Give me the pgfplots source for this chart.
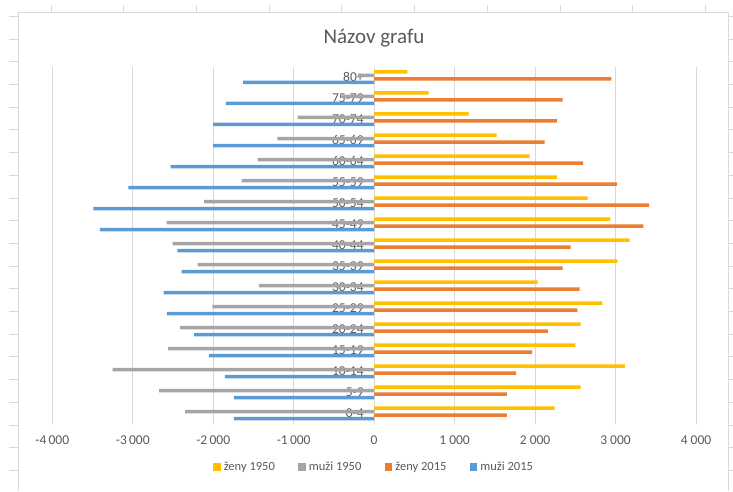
\documentclass[border=0pt]{standalone}
\usepackage{fontspec}
\setmainfont{Carlito}
\usepackage{pgfplots}
\usepackage{pgfplotstable}
\pgfplotsset{compat=1.18}
\definecolor{cYel}{HTML}{FFC000}
\definecolor{cGray}{HTML}{A5A5A5}
\definecolor{cOra}{HTML}{ED7D31}
\definecolor{cBlue}{HTML}{5B9BD5}
\definecolor{gridC}{HTML}{D9D9D9}
\definecolor{textC}{HTML}{595959}
\definecolor{frameC}{HTML}{D9D9D9}

\pgfplotstableread{
idx zeny50 muzi50 zeny15 muzi15
0  2243 -2348 1651 -1743
1  2567 -2671 1651 -1743
2  3117 -3251 1763 -1855
3  2500 -2559 1962 -2053
4  2567 -2410 2160 -2236
5  2836 -2012 2525 -2576
6  2032 -1432 2554 -2617
7  3022 -2194 2343 -2393
8  3176 -2505 2442 -2447
9  2935 -2579 3345 -3408
10 2654 -2112 3416 -3491
11 2272 -1647 3018 -3056
12 1933 -1448 2596 -2530
13 1522 -1204 2119 -2000
14 1174 -951  2272 -2000
15 677  -400  2343 -1842
16 412  -200  2948 -1627
}\data

\begin{document}
\begin{tikzpicture}[x=1pt,y=1pt]
\path[use as bounding box] (0,0) rectangle (733,491);
% chart frame and sheet grid stubs
\draw[frameC, line width=0.8pt] (18,0) -- (18,478.7) -- (728,478.7) -- (728,0);
\foreach \k in {0,...,20} {
  \draw[frameC, line width=0.8pt] (9,{474.7-22.7*\k}) -- (18,{474.7-22.7*\k});
  \draw[frameC, line width=0.8pt] (728,{474.7-22.7*\k}) -- (733,{474.7-22.7*\k});
}
\foreach \k in {0,...,9} {
  \draw[frameC, line width=0.8pt] ({51+72.7*\k},478.7) -- ({51+72.7*\k},485.5);
}
\node[text=textC, font=\fontsize{21}{25}\selectfont] at (374,453) {Názov grafu};
\begin{axis}[
  at={(52.3pt,67pt)}, anchor=south west,
  scale only axis, width=643.7pt, height=357.3pt,
  xmin=-4000, xmax=4000, ymin=-0.5, ymax=16.5,
  axis y line=center, axis x line=bottom,
  axis line style={-},
  x axis line style={draw=none},
  y axis line style={draw=gridC, line width=0.8pt},
  major tick length=0pt,
  xtick={-4000,-3000,-2000,-1000,0,1000,2000,3000,4000},
  xticklabels={-4\,000,-3\,000,-2\,000,-1\,000,0,1~000,2~000,3~000,4~000},
  ytick={0,...,16},
  yticklabels={0-4,5-9,10-14,15-19,20-24,25-29,30-34,35-39,40-44,45-49,50-54,55-59,60-64,65-69,70-74,75-79,80+},
  xmajorgrids, grid style={gridC, line width=0.8pt},
  ticklabel style={text=textC, font=\fontsize{13.5}{15}\selectfont},
  xticklabel style={yshift=-8pt},
  yticklabel style={xshift=-7pt},
  legend style={at={(0.50,-0.12)}, anchor=center, draw=none, fill=none,
    legend columns=4, font=\fontsize{12.5}{14}\selectfont, text=textC,
    /tikz/every odd column/.append style={column sep=1pt},
    /tikz/every even column/.append style={column sep=21.5pt}},
  legend image code/.code={\fill[#1] (0pt,-3.8pt) rectangle (7.5pt,3.8pt);},
  clip=false,
]
\addplot[xbar, bar width=3.5pt, bar shift=5.25pt, fill=cYel, draw=none] table[x=zeny50, y=idx]{\data};
\addplot[xbar, bar width=3.5pt, bar shift=1.75pt, fill=cGray, draw=none] table[x=muzi50, y=idx]{\data};
\addplot[xbar, bar width=3.5pt, bar shift=-1.75pt, fill=cOra, draw=none] table[x=zeny15, y=idx]{\data};
\addplot[xbar, bar width=3.5pt, bar shift=-5.25pt, fill=cBlue, draw=none] table[x=muzi15, y=idx]{\data};
\legend{ženy 1950, muži 1950, ženy 2015, muži 2015}
\end{axis}
\end{tikzpicture}
\end{document}
